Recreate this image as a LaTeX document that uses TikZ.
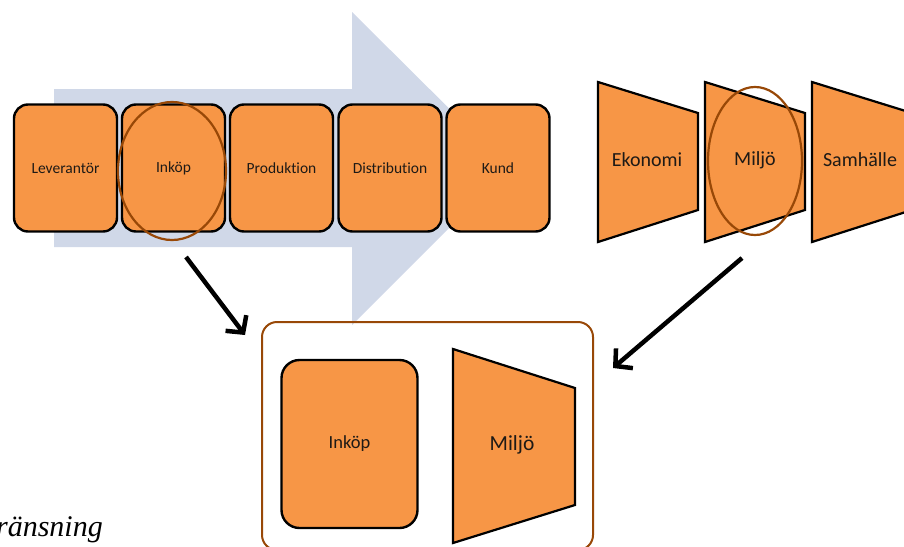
\documentclass[tikz,border=0pt]{standalone}
\usepackage{fontspec}
\setmainfont{Liberation Serif}
\newfontfamily\calib[Ligatures=NoCommon]{Carlito}
\usetikzlibrary{arrows.meta,shapes.geometric}
\definecolor{orng}{HTML}{F79646}
\definecolor{pale}{HTML}{D0D8E8}
\definecolor{brwn}{HTML}{984807}
\definecolor{txt}{HTML}{1E1A16}
\begin{document}
\begin{tikzpicture}[x=1pt,y=-1pt,
  procbox/.style={draw=black,line width=2.4pt,fill=orng,rounded corners=14pt,
    minimum width=103pt,minimum height=127pt,inner sep=0pt,
    font=\calib\fontsize{15.5}{17}\selectfont,text=txt},
  trapz/.style={draw=black,line width=2.2pt,fill=orng,line join=miter},
  lbl/.style={font=\calib\fontsize{20}{23}\selectfont,text=txt,inner sep=0pt},
  ring/.style={ellipse,draw=brwn,line width=2.2pt,inner sep=0pt},
  pointer/.style={draw=black,line width=4.5pt,
    -{Straight Barb[length=12pt,width=26pt,line width=4.5pt]}}]
\clip (0,0) rectangle (904,546);
% big background arrow
\fill[pale] (54,89) -- (352,89) -- (352,12) -- (509,168) -- (352,325) -- (352,247) -- (54,247) -- cycle;
% value chain boxes
\node[procbox] (lev) at (65.5,168) {Leverantör};
\node[procbox] (ink) at (173.5,168) {Inköp};
\node[procbox] (prod) at (281.5,168) {Produktion};
\node[procbox] (dist) at (390,168) {Distribution};
\node[procbox] (kund) at (498,168) {Kund};
\node[ring,minimum width=108pt,minimum height=138pt] (inkring) at (172,171) {};
% sustainability trapezoids
\draw[trapz] (598,82) -- (698,113) -- (698,210) -- (598,242) -- cycle;
\node[lbl] (eko) at (647,160) {Ekonomi};
\draw[trapz] (705,82) -- (805,113) -- (805,210) -- (705,242) -- cycle;
\node[lbl] (milj) at (755,160) {Miljö};
\draw[trapz] (812,82) -- (912,113) -- (912,210) -- (812,242) -- cycle;
\node[lbl] (samh) at (860,160) {Samhälle};
\node[ring,minimum width=94pt,minimum height=148pt] (miljring) at (755,161) {};
% result frame
\node[draw=brwn,line width=2pt,rounded corners=15pt,minimum width=331pt,minimum height=228pt,inner sep=0pt] (frame) at (427.5,436) {};
\node[procbox,minimum width=136pt,minimum height=168pt,rounded corners=18pt,font=\calib\fontsize{18.5}{21}\selectfont] (ink2) at (349.5,444) {Inköp};
\draw[trapz] (453,349) -- (575,388) -- (575,505) -- (453,543) -- cycle;
\node[lbl,font=\calib\fontsize{21.5}{24}\selectfont] (milj2) at (512,445) {Miljö};
% connectors
\coordinate (a1s) at (186,257);
\coordinate (a1e) at (245,335);
\coordinate (a2s) at (742,258);
\coordinate (a2e) at (613,368);
\draw[pointer] (a1s) -- (a1e);
\draw[pointer] (a2s) -- (a2e);
% caption (cut off at the left edge, as in the reference)
\node[anchor=base east,font=\itshape\fontsize{30}{33}\selectfont,inner sep=0pt] (cap) at (103,536) {Avgränsning};
\end{tikzpicture}
\end{document}
